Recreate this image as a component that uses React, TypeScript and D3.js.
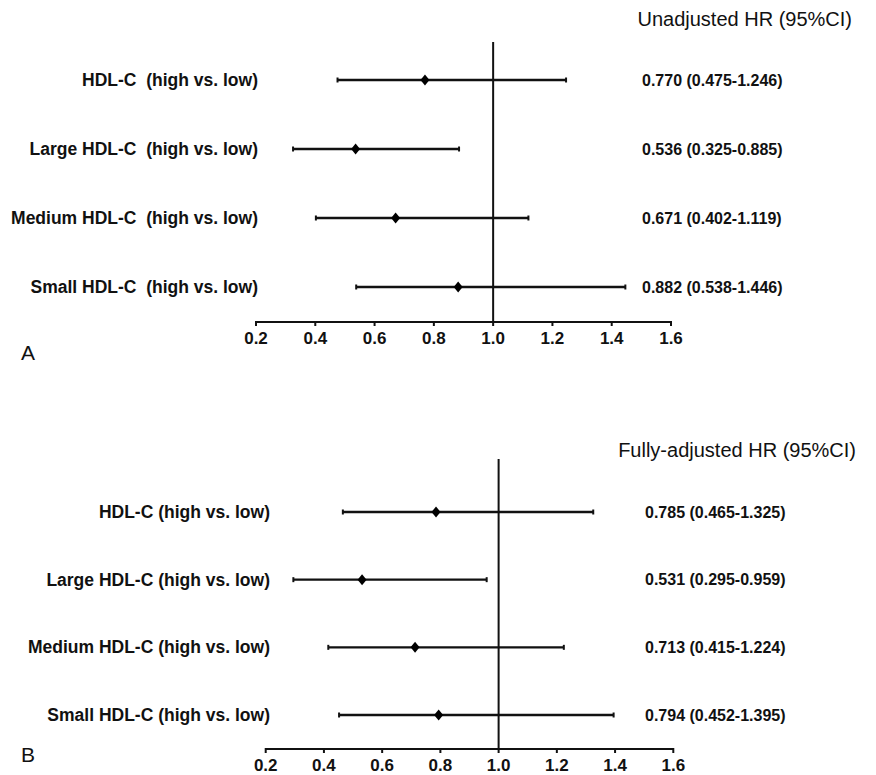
import React from "react";
import * as d3 from "d3";

const labelsA = [
  "HDL-C  (high vs. low)",
  "Large HDL-C  (high vs. low)",
  "Medium HDL-C  (high vs. low)",
  "Small HDL-C  (high vs. low)",
];
const hrA = [0.77, 0.536, 0.671, 0.882];
const loA = [0.475, 0.325, 0.402, 0.538];
const hiA = [1.246, 0.885, 1.119, 1.446];

const labelsB = [
  "HDL-C (high vs. low)",
  "Large HDL-C (high vs. low)",
  "Medium HDL-C (high vs. low)",
  "Small HDL-C (high vs. low)",
];
const hrB = [0.785, 0.531, 0.713, 0.794];
const loB = [0.465, 0.295, 0.415, 0.452];
const hiB = [1.325, 0.959, 1.224, 1.395];

const tickValues = [0.2, 0.4, 0.6, 0.8, 1.0, 1.2, 1.4, 1.6];
const titleA = "Unadjusted HR (95%CI)";
const titleB = "Fully-adjusted HR (95%CI)";

const FONT = "'Liberation Sans', Arial, Helvetica, sans-serif";

type PanelProps = {
  labels: string[];
  hr: number[];
  lo: number[];
  hi: number[];
  title: string;
  letter: string;
  x0: number;
  x1: number;
  yTop: number;
  yBottom: number;
  axisY: number;
  refTop: number;
  labelRight: number;
  valueX: number;
  titleRight: number;
  titleY: number;
  letterY: number;
};

function Panel(p: PanelProps) {
  const x = d3.scaleLinear().domain([0.2, 1.6]).range([p.x0, p.x1]);
  const y = d3
    .scalePoint<number>()
    .domain(p.labels.map((_, i) => i))
    .range([p.yTop, p.yBottom]);
  const fmt = d3.format(".3f");
  const diamond = "M0,-5.5L4.5,0L0,5.5L-4.5,0Z";
  return (
    <g>
      <text x={p.titleRight} y={p.titleY} textAnchor="end" fontSize={20} fill="#111">
        {p.title}
      </text>
      <text x={21} y={p.letterY} fontSize={21} fill="#111">
        {p.letter}
      </text>
      <line x1={x(1)} x2={x(1)} y1={p.refTop} y2={p.axisY} stroke="#111" strokeWidth={2} />
      <line x1={x(0.2)} x2={x(1.6)} y1={p.axisY} y2={p.axisY} stroke="#111" strokeWidth={2} />
      {tickValues.map((t) => (
        <g key={t}>
          <line x1={x(t)} x2={x(t)} y1={p.axisY - 1} y2={p.axisY + 4} stroke="#111" strokeWidth={2} />
          <text
            x={x(t)}
            y={p.axisY + 16}
            textAnchor="middle"
            dominantBaseline="central"
            fontSize={17}
            fontWeight="bold"
            fill="#111"
          >
            {d3.format(".1f")(t)}
          </text>
        </g>
      ))}
      {p.labels.map((lab, i) => {
        const yy = y(i) as number;
        return (
          <g key={lab}>
            <text
              x={p.labelRight}
              y={yy}
              textAnchor="end"
              dominantBaseline="central"
              fontSize={17.5}
              fontWeight="bold"
              fill="#111"
              style={{ whiteSpace: "pre" }}
            >
              {lab}
            </text>
            <line x1={x(p.lo[i])} x2={x(p.hi[i])} y1={yy} y2={yy} stroke="#111" strokeWidth={2.3} />
            <line x1={x(p.lo[i])} x2={x(p.lo[i])} y1={yy - 2.5} y2={yy + 2.5} stroke="#111" strokeWidth={2} />
            <line x1={x(p.hi[i])} x2={x(p.hi[i])} y1={yy - 2.5} y2={yy + 2.5} stroke="#111" strokeWidth={2} />
            <path d={diamond} transform={`translate(${x(p.hr[i])},${yy})`} fill="#000" />
            <text
              x={p.valueX}
              y={yy}
              dominantBaseline="central"
              fontSize={16}
              fontWeight="bold"
              fill="#111"
            >
              {`${fmt(p.hr[i])} (${fmt(p.lo[i])}-${fmt(p.hi[i])})`}
            </text>
          </g>
        );
      })}
    </g>
  );
}

export default function App() {
  return (
    <svg
      width={876}
      height={775}
      style={{ position: "absolute", left: 0, top: 0, background: "#fff", fontFamily: FONT }}
    >
      <rect width={876} height={775} fill="#fff" />
      <Panel
        labels={labelsA}
        hr={hrA}
        lo={loA}
        hi={hiA}
        title={titleA}
        letter="A"
        x0={256}
        x1={671}
        yTop={80}
        yBottom={287}
        axisY={322}
        refTop={42}
        labelRight={258}
        valueX={642}
        titleRight={852}
        titleY={26}
        letterY={360}
      />
      <Panel
        labels={labelsB}
        hr={hrB}
        lo={loB}
        hi={hiB}
        title={titleB}
        letter="B"
        x0={265.7}
        x1={673.3}
        yTop={512}
        yBottom={715}
        axisY={749}
        refTop={459}
        labelRight={270}
        valueX={645}
        titleRight={856}
        titleY={457}
        letterY={762}
      />
    </svg>
  );
}
